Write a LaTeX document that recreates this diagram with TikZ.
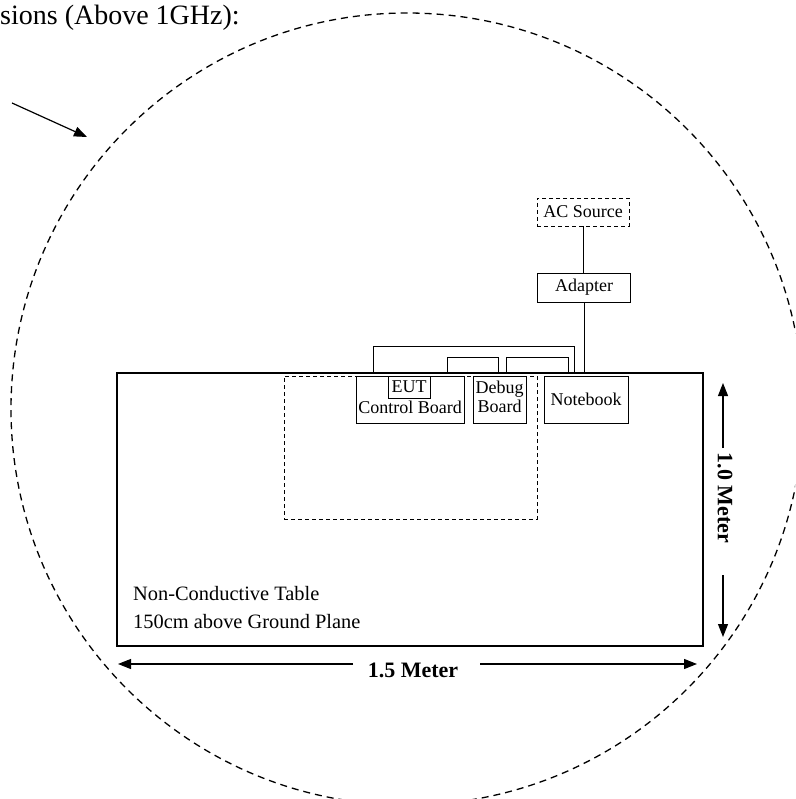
\documentclass[tikz,border=0pt]{standalone}
\usepackage{fontspec}
\setmainfont{Liberation Serif}
\usetikzlibrary{arrows.meta}
\begin{document}
\begin{tikzpicture}[x=1pt,y=-1pt,
  box/.style={draw,line width=0.9pt,inner sep=0pt,font=\fontsize{18}{20}\selectfont,align=center},
  dashbox/.style={box,dash pattern=on 4pt off 3pt},
  txt/.style={inner sep=0pt,font=\fontsize{18}{20}\selectfont},
  tabletxt/.style={inner sep=0pt,anchor=base west,font=\fontsize{20.4}{22}\selectfont},
  cable/.style={line width=0.9pt},
  dimarrow/.style={line width=1.1pt,-{Triangle[length=13pt,width=10pt]}},
  dimlabel/.style={inner sep=0pt,font=\fontsize{22}{24}\selectfont\bfseries},
  zone/.style={line width=1.3pt,dash pattern=on 7pt off 5pt}]
\useasboundingbox (0,0) rectangle (795,799);
\clip (0,0) rectangle (795,799);

% title fragment
\node[inner sep=0pt,anchor=base west,font=\fontsize{28}{30}\selectfont] (title) at (0,25) {sions (Above 1GHz):};

% test zone circle
\draw[zone] (407,409) circle (396);

% pointer arrow
\coordinate (p0) at (12,103);
\coordinate (p1) at (87,137);
\draw[line width=1.2pt,-{Triangle[length=13pt,width=10pt]}] (p0) -- (p1);

% table
\node[draw,line width=2pt,inner sep=0pt,minimum width=586pt,minimum height=273pt] (table) at (410,509.5) {};
\node[tabletxt] (tl1) at (133,600) {Non-Conductive Table};
\node[tabletxt] (tl2) at (133,628) {150cm above Ground Plane};

% inner dashed area
\node[draw,line width=0.8pt,dash pattern=on 4pt off 3pt,inner sep=0pt,minimum width=253pt,minimum height=143pt] (area) at (410.5,447.5) {};

% devices
\node[box,fill=white,minimum width=108pt,minimum height=47pt] (ctrl) at (410,399.5) {};
\node[box,minimum width=42pt,minimum height=22pt] (eut) at (409,387) {EUT};
\node[txt,anchor=base] (ctrltxt) at (410,413) {Control Board};
\node[box,fill=white,minimum width=53pt,minimum height=47pt] (debug) at (499.5,399.5) {};
\node[txt,anchor=base] (dbg1) at (499.5,393) {Debug};
\node[txt,anchor=base] (dbg2) at (499.5,412) {Board};
\node[box,fill=white,minimum width=84pt,minimum height=47pt] (notebook) at (586,399.5) {Notebook};

% power
\node[dashbox,minimum width=92pt,minimum height=28pt] (ac) at (583,212) {AC Source};
\node[box,minimum width=93pt,minimum height=29pt] (adapter) at (584,287.5) {Adapter};
\draw[cable] (ac.south) -- (ac.south |- adapter.north);
\draw[cable] (adapter.south) -- (adapter.south |- table.north);

% cables
\coordinate (c1a) at (373,373);
\coordinate (c1b) at (574,373);
\draw[cable] (c1a) -- (373,346) -- (574,346) -- (c1b);
\coordinate (c2a) at (447,373);
\coordinate (c2b) at (498,373);
\draw[cable] (c2a) -- (447,357) -- (498,357) -- (c2b);
\coordinate (c3a) at (506,373);
\coordinate (c3b) at (568,373);
\draw[cable] (c3a) -- (506,357) -- (568,357) -- (c3b);

% dimensions
\coordinate (h0) at (353,664);
\coordinate (h1) at (118,664);
\coordinate (h2) at (480,664);
\coordinate (h3) at (697,664);
\draw[dimarrow] (h0) -- (h1);
\draw[dimarrow] (h2) -- (h3);
\node[dimlabel] (hlab) at (413,670) {1.5 Meter};

\coordinate (v0) at (723,448);
\coordinate (v1) at (723,383);
\coordinate (v2) at (723,575);
\coordinate (v3) at (723,637);
\draw[dimarrow] (v0) -- (v1);
\draw[dimarrow] (v2) -- (v3);
\node[dimlabel,rotate=-90] (vlab) at (725,498) {1.0 Meter};
\end{tikzpicture}
\end{document}
